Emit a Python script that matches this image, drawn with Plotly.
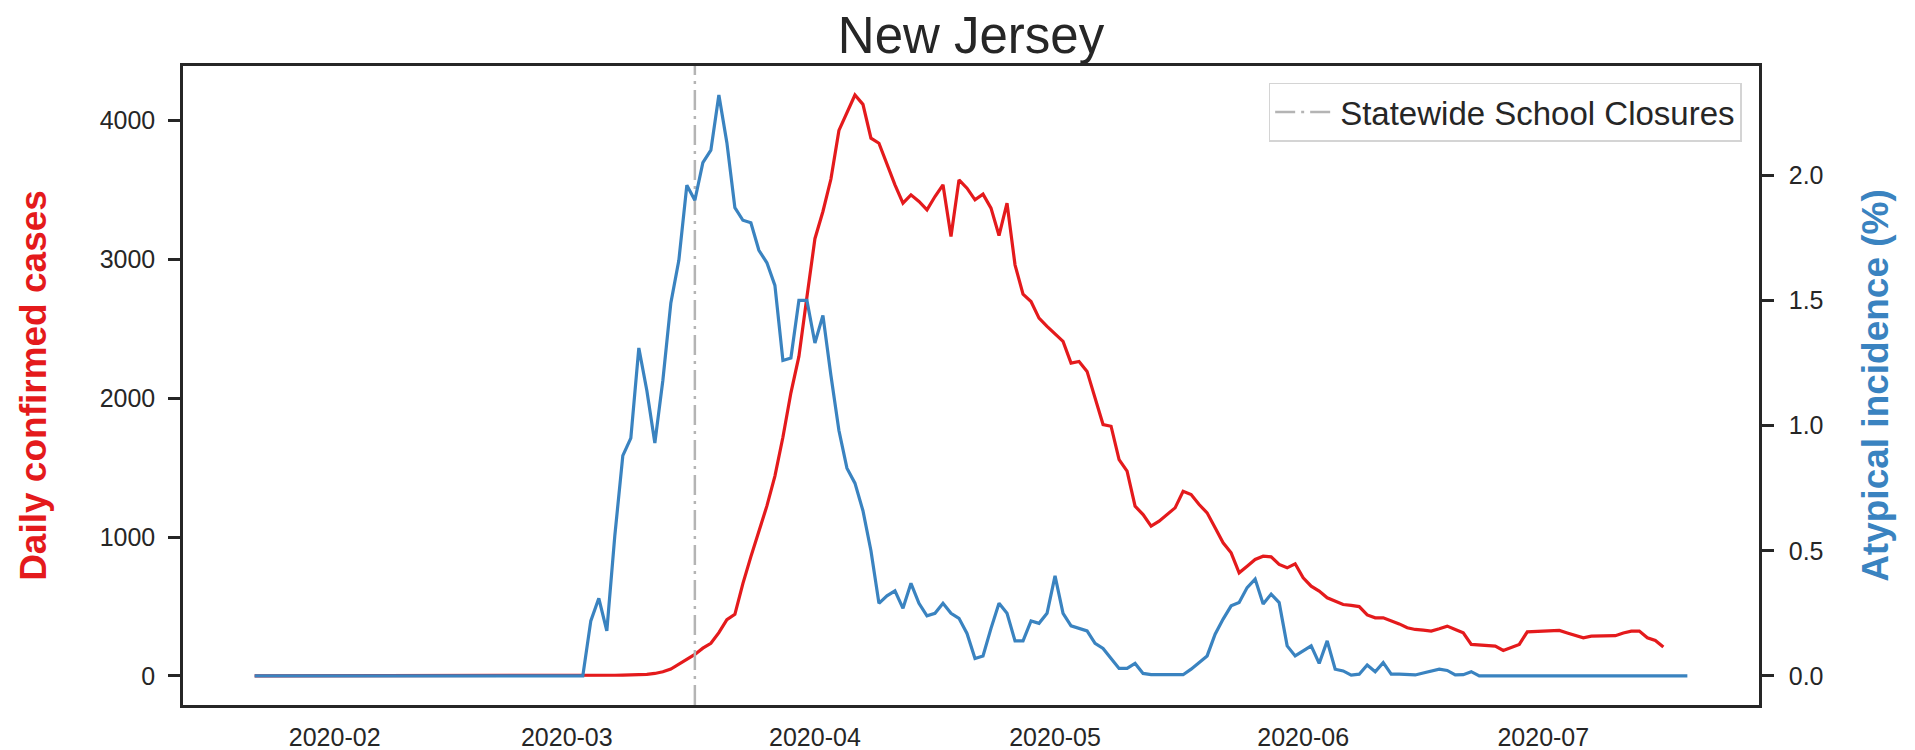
import pandas as pd
import plotly.graph_objects as go

# Daily series, one value per day starting on the first date below
series_start = "2020-01-22"

# Daily confirmed cases (7-day smoothed), left axis
cases = [
    0, 0, 0, 0, 0, 0, 0, 0, 0, 0,
    0, 0, 0, 0, 0, 0, 0, 0, 0, 0,
    0, 0, 0, 0, 0, 0, 0, 0, 0, 0,
    0, 0, 0, 0, 0, 0, 0, 0, 0, 0,
    1, 1, 2, 3, 4, 5, 6, 7, 9, 12,
    18, 30, 50, 85, 115, 155, 200, 235, 312, 405,
    444, 665, 860, 1050, 1225, 1440, 1720, 2040, 2302, 2730,
    3150, 3346, 3580, 3930, 4060, 4185, 4118, 3874, 3838, 3682,
    3538, 3406, 3466, 3418, 3358, 3454, 3538, 3166, 3574, 3514,
    3430, 3471, 3370, 3173, 3406, 2962, 2751, 2698, 2578, 2518,
    2463, 2410, 2254, 2266, 2194, 2010, 1811, 1799, 1559, 1475,
    1223, 1163, 1079, 1115, 1163, 1211, 1331, 1307, 1235, 1175,
    1067, 959, 887, 743, 791, 839, 863, 858, 803, 779,
    808, 707, 647, 611, 563, 539, 515, 509, 500, 440,
    419, 419, 398, 375, 347, 335, 330, 323, 340, 359,
    335, 311, 227, 222, 218, 215, 184, 208, 227, 318,
    320, 322, 325, 328, 310, 295, 275, 287, 287, 287,
    290, 310, 323, 323, 275, 256, 208,
]

# Atypical incidence in percent, right axis
atypical = [
    0, 0, 0, 0, 0, 0, 0, 0, 0, 0,
    0, 0, 0, 0, 0, 0, 0, 0, 0, 0,
    0, 0, 0, 0, 0, 0, 0, 0, 0, 0,
    0, 0, 0, 0, 0, 0, 0, 0, 0, 0,
    0, 0, 0.22, 0.31, 0.18, 0.56, 0.88, 0.95, 1.31, 1.14,
    0.93, 1.18, 1.49, 1.66, 1.96, 1.90, 2.05, 2.10, 2.32, 2.13,
    1.87, 1.82, 1.81, 1.70, 1.65, 1.56, 1.26, 1.27, 1.50, 1.50,
    1.33, 1.44, 1.20, 0.98, 0.83, 0.77, 0.66, 0.50, 0.29, 0.32,
    0.34, 0.27, 0.37, 0.29, 0.24, 0.25, 0.29, 0.25, 0.23, 0.17,
    0.07, 0.08, 0.19, 0.29, 0.25, 0.14, 0.14, 0.22, 0.21, 0.25,
    0.40, 0.25, 0.20, 0.19, 0.18, 0.13, 0.11, 0.07, 0.03, 0.03,
    0.05, 0.01, 0.005, 0.005, 0.005, 0.005, 0.005, 0.027, 0.053, 0.08,
    0.167, 0.227, 0.28, 0.293, 0.353, 0.387, 0.287, 0.327, 0.293, 0.12,
    0.08, 0.10, 0.12, 0.05, 0.14, 0.027, 0.02, 0.003, 0.007, 0.044,
    0.017, 0.053, 0.007, 0.007, 0.005, 0.004, 0.012, 0.02, 0.027, 0.022,
    0.004, 0.005, 0.017, 0, 0, 0, 0, 0, 0, 0,
    0, 0, 0, 0, 0, 0, 0, 0, 0, 0,
    0, 0, 0, 0, 0, 0, 0, 0, 0, 0,
]

closure_date = "2020-03-17"
closure_label = "Statewide School Closures"
title_text = "New Jersey"
left_title = "Daily confirmed cases"
right_title = "Atypical incidence (%)"

case_dates = pd.date_range(series_start, periods=len(cases), freq="D")
atyp_dates = pd.date_range(series_start, periods=len(atypical), freq="D")

RED = "#e41a1c"
BLUE = "#3a83c0"
INK = "#262626"
FONT = "Liberation Sans, Arial, Helvetica, sans-serif"


def padded(lo, hi, frac=0.05):
    pad = (hi - lo) * frac
    return [lo - pad, hi + pad]


y1_range = padded(min(cases), max(cases))
y2_range = padded(min(atypical), max(atypical))
x_lo, x_hi = atyp_dates[0], atyp_dates[-1]
x_pad = (x_hi - x_lo) * 0.05
x_range = [(x_lo - x_pad).strftime("%Y-%m-%d %H:%M:%S"),
           (x_hi + x_pad).strftime("%Y-%m-%d %H:%M:%S")]

fig = go.Figure()

fig.add_trace(go.Scatter(
    x=case_dates, y=cases, mode="lines",
    line=dict(color=RED, width=3.2), showlegend=False, yaxis="y",
))

fig.add_trace(go.Scatter(
    x=[closure_date, closure_date], y=y1_range, mode="lines",
    line=dict(color="#b4b4b4", width=2.5, dash="20px,6px,3px,6px"),
    name=closure_label, showlegend=True, yaxis="y",
))

fig.add_trace(go.Scatter(
    x=atyp_dates, y=atypical, mode="lines",
    line=dict(color=BLUE, width=3.2), showlegend=False, yaxis="y2",
))

axis_common = dict(
    showgrid=False, zeroline=False, showline=True,
    linecolor=INK, linewidth=2.5,
    tickfont=dict(family=FONT, size=25, color=INK),
)

fig.update_layout(
    width=1915, height=750,
    margin=dict(l=183, r=156, t=66, b=45, autoexpand=False),
    paper_bgcolor="white", plot_bgcolor="white",
    font=dict(family=FONT, size=25, color=INK),
    title=dict(
        text=title_text, x=0.5, xref="paper", xanchor="center",
        y=1 - 35 / 750, yref="container", yanchor="middle",
        font=dict(family=FONT, size=51, color=INK),
    ),
    legend=dict(
        x=0.989, xanchor="right", y=0.974, yanchor="top",
        bgcolor="white", bordercolor="#d4d4d4", borderwidth=1.5,
        font=dict(family=FONT, size=33, color=INK),
        itemwidth=60,
    ),
    xaxis=dict(
        type="date", range=x_range, tickformat="%Y-%m",
        dtick="M1", tick0="2020-02-01", ticks="", mirror=True,
        ticklabelstandoff=8,
        **axis_common,
    ),
    yaxis=dict(
        range=y1_range, tick0=0, dtick=1000, ticks="outside",
        ticklen=12, tickwidth=2.5, tickcolor=INK, ticklabelstandoff=8,
        title=dict(text="<b>" + left_title + "</b>", standoff=42,
                   font=dict(family=FONT, size=37, color=RED)),
        automargin=False,
        **axis_common,
    ),
    yaxis2=dict(
        range=y2_range, overlaying="y", side="right", tick0=0, dtick=0.5,
        tickformat=".1f", ticks="outside", ticklen=12, tickwidth=2.5,
        tickcolor=INK, ticklabelstandoff=10,
        title=dict(text="<b>" + right_title + "</b>", standoff=40,
                   font=dict(family=FONT, size=37, color=BLUE)),
        automargin=False,
        **axis_common,
    ),
)

fig.write_html("out.html")
